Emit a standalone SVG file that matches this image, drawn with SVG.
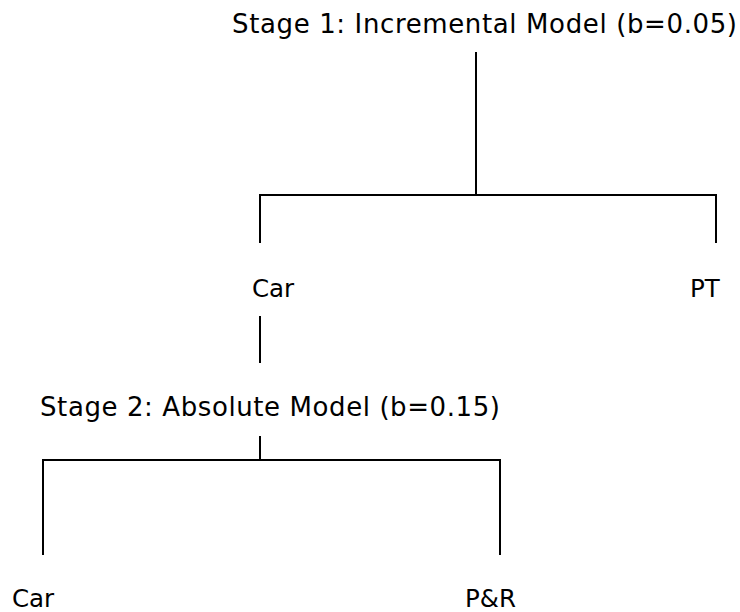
<svg xmlns="http://www.w3.org/2000/svg" width="740" height="612" viewBox="0 0 740 612">
<style>
text{font-family:"DejaVu Sans","Verdana",sans-serif;font-size:24.5px;fill:#000}
.s{font-size:26px}
.c{stroke:#000;stroke-width:2;fill:none}
</style>
<rect width="740" height="612" fill="#fff"/>
<g id="connectors">
<path class="c" d="M476,52V195M260,243V195H716V243"/>
<path class="c" d="M260,316V363"/>
<path class="c" d="M260,436V460M43,555V460H500V555"/>
</g>
<g id="stage1"><text class="s" x="232" y="33" textLength="505" lengthAdjust="spacing">Stage 1: Incremental Model (b=0.05)</text></g>
<g id="car1"><text x="252" y="297">Car</text></g>
<g id="pt"><text x="690" y="297">PT</text></g>
<g id="stage2"><text class="s" x="40" y="416" textLength="460" lengthAdjust="spacing">Stage 2: Absolute Model (b=0.15)</text></g>
<g id="car2"><text x="12" y="607">Car</text></g>
<g id="pr"><text x="465" y="607">P&amp;R</text></g>
</svg>
